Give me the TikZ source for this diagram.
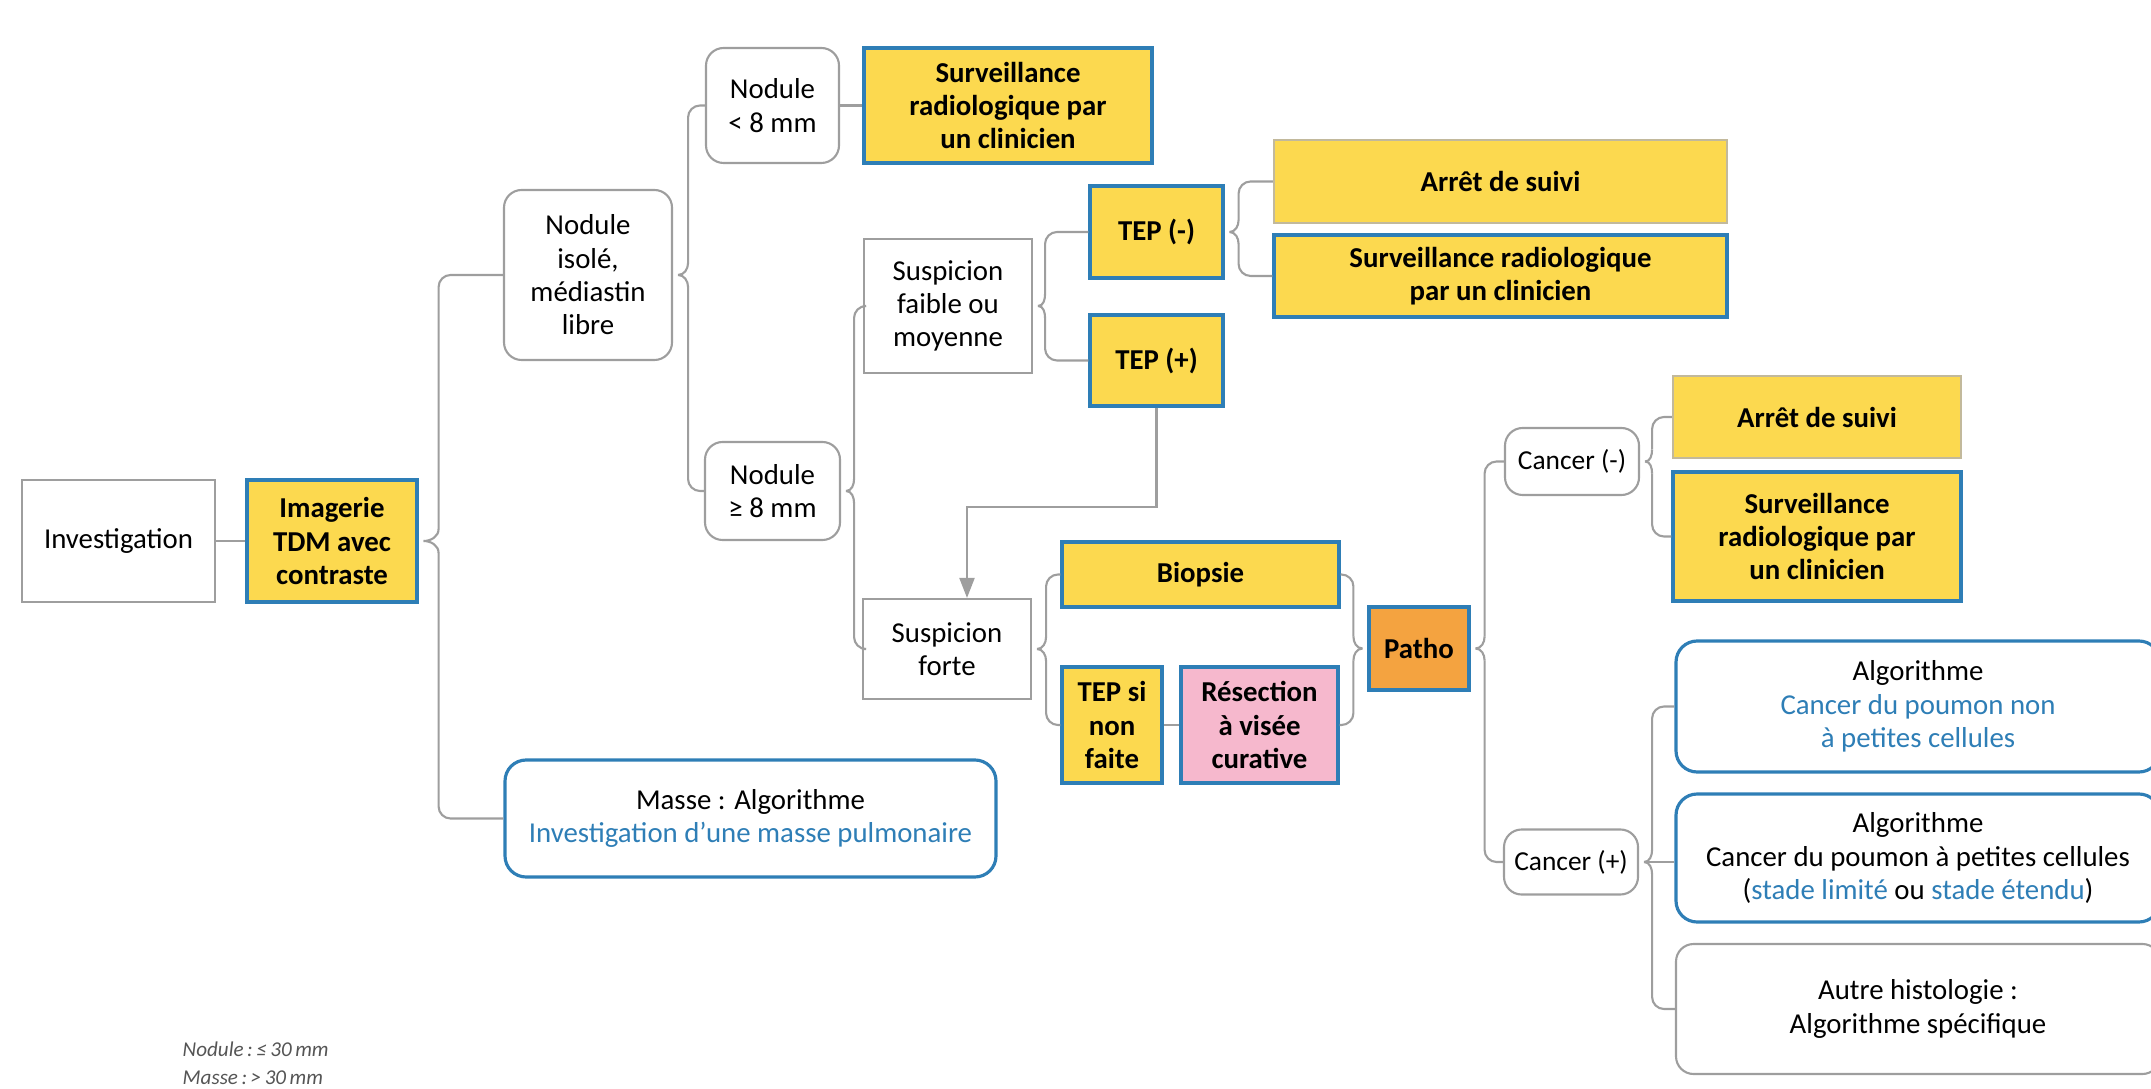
\documentclass[tikz,border=0pt]{standalone}
\usepackage{fontspec}
\setmainfont{Carlito}
\usepackage{xcolor}
\definecolor{cYel}{HTML}{FCD94F}
\definecolor{cBlue}{HTML}{2E7EB6}
\definecolor{cLine}{HTML}{9E9E9E}
\definecolor{cTan}{HTML}{C2B99C}
\definecolor{cOrange}{HTML}{F4A340}
\definecolor{cPink}{HTML}{F6B8CD}
\definecolor{cNote}{HTML}{555555}
\usepackage{tikz}
\usetikzlibrary{positioning,arrows.meta,calc}
\tikzset{
  node-box/.style={draw=cLine,line width=0.6pt,align=center,inner sep=1pt,
    font=\fontsize{8.2pt}{9.5pt}\selectfont},
  node-soft/.style={node-box,rounded corners=5pt},
  node-small/.style={node-soft,font=\fontsize{7.8pt}{9.3pt}\selectfont},
  node-act/.style={node-box,draw=cBlue,line width=0.9pt,fill=cYel,
    font=\fontsize{8.2pt}{9.5pt}\selectfont\bfseries},
  node-stop/.style={node-act,draw=cTan,line width=0.6pt},
  node-algo/.style={node-box,draw=cBlue,line width=0.9pt,rounded corners=6pt},
  note/.style={font=\fontsize{6pt}{7pt}\selectfont\itshape,text=cNote,
    inner sep=0pt,anchor=west},
  link/.style={draw=cLine,line width=0.6pt},
  arrow/.style={link,-{Triangle[length=2mm,width=1.5mm]}},
}

\begin{document}
\begin{tikzpicture}
  \useasboundingbox (0,0) rectangle (21.51,-10.89);
  \clip (0,0) rectangle (21.51,-10.89);
  % colonne gauche
  \node[node-box,minimum width=1.93cm,minimum height=1.22cm] (inv) at (1.185,-5.41) {Investigation};
  \node[node-act,minimum width=1.70cm,minimum height=1.22cm] (img) at (3.32,-5.41) {Imagerie\\TDM avec\\contraste};
  \node[node-soft,minimum width=1.68cm,minimum height=1.70cm] (nodiso) at (5.88,-2.75) {Nodule\\isolé,\\médiastin\\libre};
  \node[node-algo,minimum width=4.91cm,minimum height=1.17cm] (masse) at (7.505,-8.185)
    {Masse : Algorithme\\\textcolor{cBlue}{Investigation d’une masse pulmonaire}};
  % nodules
  \node[node-soft,minimum width=1.33cm,minimum height=1.15cm] (nod8) at (7.725,-1.055) {Nodule\\< 8 mm};
  \node[node-act,minimum width=2.88cm,minimum height=1.15cm] (surv1) at (10.08,-1.055) {Surveillance\\radiologique par\\un clinicien};
  \node[node-soft,minimum width=1.35cm,minimum height=0.98cm] (nodge8) at (7.725,-4.91) {Nodule\\≥ 8 mm};
  \node[node-box,minimum width=1.68cm,minimum height=1.34cm] (suspf) at (9.48,-3.06) {Suspicion\\faible ou\\moyenne};
  \node[node-act,minimum width=1.33cm,minimum height=0.92cm] (tepm) at (11.565,-2.32) {TEP (-)};
  \node[node-act,minimum width=1.33cm,minimum height=0.91cm] (tepp) at (11.565,-3.605) {TEP (+)};
  \node[node-stop,minimum width=4.53cm,minimum height=0.83cm] (arret1) at (15.005,-1.815) {Arrêt de suivi};
  \node[node-act,minimum width=4.53cm,minimum height=0.82cm] (surv2) at (15.005,-2.76) {Surveillance radiologique\\par un clinicien};
  % suspicion forte
  \node[node-box,minimum width=1.68cm,minimum height=1.00cm] (suspforte) at (9.47,-6.49) {Suspicion\\forte};
  \node[node-act,minimum width=2.77cm,minimum height=0.65cm] (biopsie) at (12.005,-5.745) {Biopsie};
  \node[node-act,minimum width=1.00cm,minimum height=1.16cm] (tepsi) at (11.12,-7.25) {TEP si\\non\\faite};
  \node[node-act,fill=cPink,minimum width=1.57cm,minimum height=1.16cm] (resec) at (12.595,-7.25) {Résection\\à visée\\curative};
  \node[node-act,fill=cOrange,minimum width=1.00cm,minimum height=0.83cm] (patho) at (14.19,-6.485) {Patho};
  % resultats
  \node[node-small,minimum width=1.34cm,minimum height=0.67cm] (cancm) at (15.72,-4.615) {Cancer (-)};
  \node[node-small,minimum width=1.34cm,minimum height=0.65cm] (cancp) at (15.71,-8.62) {Cancer (+)};
  \node[node-stop,minimum width=2.88cm,minimum height=0.82cm] (arret2) at (18.17,-4.17) {Arrêt de suivi};
  \node[node-act,minimum width=2.88cm,minimum height=1.29cm] (surv3) at (18.17,-5.365) {Surveillance\\radiologique par\\un clinicien};
  \node[node-algo,minimum width=4.84cm,minimum height=1.31cm] (algo1) at (19.18,-7.065)
    {Algorithme\\\textcolor{cBlue}{Cancer du poumon non}\\\textcolor{cBlue}{à petites cellules}};
  \node[node-algo,minimum width=4.84cm,minimum height=1.28cm] (algo2) at (19.18,-8.58)
    {Algorithme\\Cancer du poumon à petites cellules\\(\textcolor{cBlue}{stade limité} ou \textcolor{cBlue}{stade étendu})};
  \node[node-soft,minimum width=4.84cm,minimum height=1.30cm] (autre) at (19.18,-10.09) {Autre histologie :\\Algorithme spécifique};
  % notes
  \node[note] (nnod) at (1.82,-10.49) {Nodule\,:\,≤\,30\,mm};
  \node[note] (nmas) at (1.82,-10.78) {Masse\,:\,>\,30\,mm};

  % liens droits
  \draw[link] (inv) -- (img);
  \draw[link] (nod8) -- (surv1);
  \draw[link] (tepsi) -- (resec);
  \draw[link] ($(cancp.east)+(0.05,0)$) -- (cancp.east -| algo2.west);
  % accolades
  \foreach \pa/\ch/\g/\s/\a in {img/nodiso/0.20/1/-90, img/masse/0.20/-1/90,
      nodiso/nod8/0.15/1/-90, nodiso/nodge8/0.15/-1/90,
      nodge8/suspf/0.13/1/-90, nodge8/suspforte/0.13/-1/90,
      suspf/tepm/0.12/1/-90, suspf/tepp/0.12/-1/90,
      tepm/arret1/0.14/1/-90, tepm/surv2/0.14/-1/90,
      suspforte/biopsie/0.14/1/-90, suspforte/tepsi/0.14/-1/90,
      patho/cancm/0.14/1/-90, patho/cancp/0.14/-1/90,
      cancm/arret2/0.12/1/-90, cancm/surv3/0.12/-1/90,
      cancp/algo1/0.13/1/-90, cancp/autre/0.13/-1/90} {
    \draw[link] ($(\pa.east)+(0.05,0)$) to[out=0,in=\a] ++(\g-0.05,0.12*\s) coordinate (k);
    \draw[link,rounded corners=0.12cm] (k) |- (\ch.west);
  }
  % accolade inverse vers Patho
  \foreach \ch/\s/\a in {biopsie/1/-90, resec/-1/90} {
    \draw[link,rounded corners=0.12cm] (\ch.east) -| ($(patho.west)+(-0.14,0.12*\s)$) coordinate (k);
    \draw[link] (k) to[out=\a,in=180] ($(patho.west)+(-0.05,0)$);
  }
  \draw[arrow] (tepp.south) -- ++(0,-0.99) -| ($(suspforte.north)+(0.2,0)$);
\end{tikzpicture}
\end{document}
